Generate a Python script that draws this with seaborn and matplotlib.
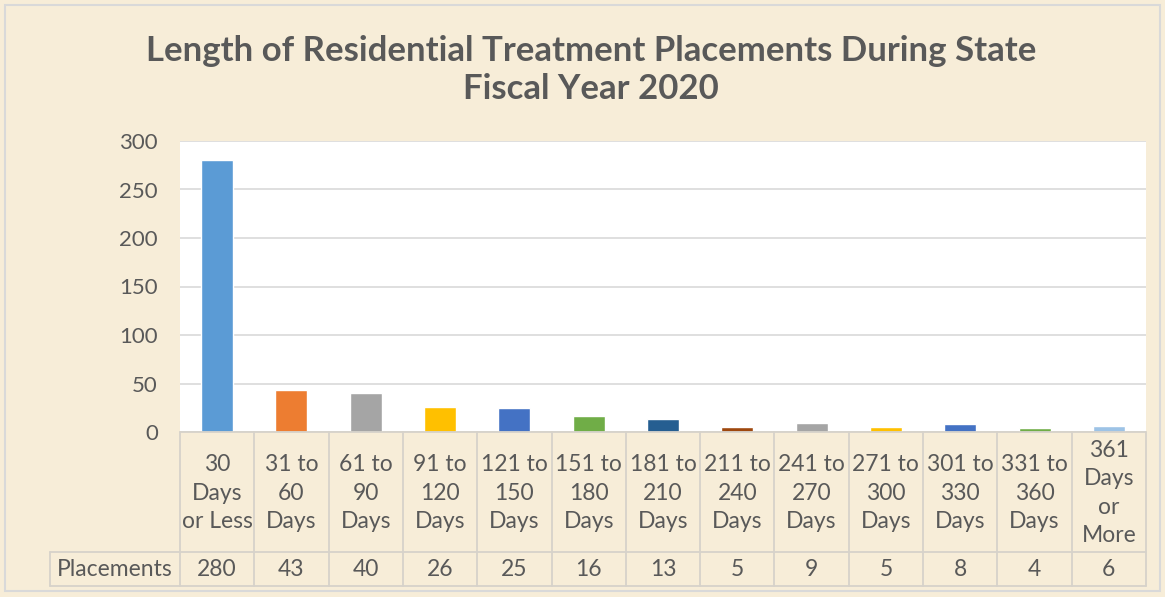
import matplotlib
matplotlib.use("Agg")
import matplotlib.pyplot as plt
import matplotlib.transforms as mtransforms
import seaborn as sns
import pandas as pd

# data
categories = ["30\nDays\nor Less", "31 to\n60\nDays", "61 to\n90\nDays", "91 to\n120\nDays",
              "121 to\n150\nDays", "151 to\n180\nDays", "181 to\n210\nDays", "211 to\n240\nDays",
              "241 to\n270\nDays", "271 to\n300\nDays", "301 to\n330\nDays", "331 to\n360\nDays",
              "361\nDays\nor\nMore"]
placements = [280, 43, 40, 26, 25, 16, 13, 5, 9, 5, 8, 4, 6]
bar_colors = ["#5B9BD5", "#ED7D31", "#A5A5A5", "#FFC000", "#4472C4", "#70AD47", "#255E91",
              "#9E480E", "#A5A5A5", "#FFC000", "#4472C4", "#70AD47", "#9DC3E6"]
series_name = "Placements"
title = "Length of Residential Treatment Placements During State\nFiscal Year 2020"

df = pd.DataFrame({"cat": categories, "val": placements})

sns.set_style("white")
plt.rcParams["font.family"] = ["Lato", "DejaVu Sans"]
txt = "#595959"
grid_c = "#D9D9D9"
bg = "#F7EDD8"

W, H = 1165, 597
fig = plt.figure(figsize=(W / 100, H / 100), dpi=100, facecolor=bg)

def fx(px):
    return px / W

def fy(py):
    return 1 - py / H

left, right, top, bottom = 180, 1146, 141, 432
ax = fig.add_axes([fx(left), fy(bottom), fx(right - left), fy(top) - fy(bottom)])
ax.set_facecolor("white")

sns.barplot(data=df, x="cat", y="val", hue="cat", palette=bar_colors, legend=False,
            width=0.43, ax=ax, saturation=1)

ax.set_ylim(0, 300)
ax.set_yticks(range(0, 301, 50))
ax.set_xlim(-0.5, len(categories) - 0.5)
ax.grid(axis="y", color=grid_c, linewidth=1.2)
ax.set_axisbelow(True)
for s in ax.spines.values():
    s.set_visible(False)
ax.set_xticks([])
ax.set_xlabel("")
ax.set_ylabel("")
ax.tick_params(axis="y", length=0, pad=16, labelsize=16, labelcolor=txt)

# data table under the axis
line_c = "#D6D2CA"
row1_bot = 552
row2_bot = 586
tbl_left = 50
col_w = (right - left) / len(categories)

def hline(y, x0, x1):
    fig.add_artist(plt.Line2D([fx(x0), fx(x1)], [fy(y), fy(y)], color=line_c, lw=1.3))

def vline(x, y0, y1):
    fig.add_artist(plt.Line2D([fx(x), fx(x)], [fy(y0), fy(y1)], color=line_c, lw=1.3))

hline(bottom, left, right)
hline(row1_bot, tbl_left, right)
hline(row2_bot, tbl_left, right)
vline(tbl_left, row1_bot, row2_bot)
for i in range(len(categories) + 1):
    vline(left + i * col_w, bottom, row2_bot)

trans = mtransforms.blended_transform_factory(ax.transData, fig.transFigure)
for i, (c, v) in enumerate(zip(categories, placements)):
    fig.text(i, fy((bottom + row1_bot) / 2 + 1), c, transform=trans, ha="center", va="center",
             fontsize=16.5, color=txt, linespacing=1.43)
    fig.text(i, fy((row1_bot + row2_bot) / 2), str(v), transform=trans, ha="center",
             va="center", fontsize=16.5, color=txt)
fig.text(fx((tbl_left + left) / 2), fy((row1_bot + row2_bot) / 2), series_name, ha="center",
         va="center", fontsize=16.5, color=txt)

fig.text(fx(591), fy(70), title, ha="center", va="center", fontsize=25, fontweight="bold",
         color=txt, linespacing=1.22)

# outer chart border
fig.add_artist(plt.Rectangle((fx(5), fy(591)), fx(1155), fy(5) - fy(591), fill=False,
                             edgecolor="#D9D9D9", lw=1.5))

fig.savefig("out.png", dpi=100, facecolor=bg)
